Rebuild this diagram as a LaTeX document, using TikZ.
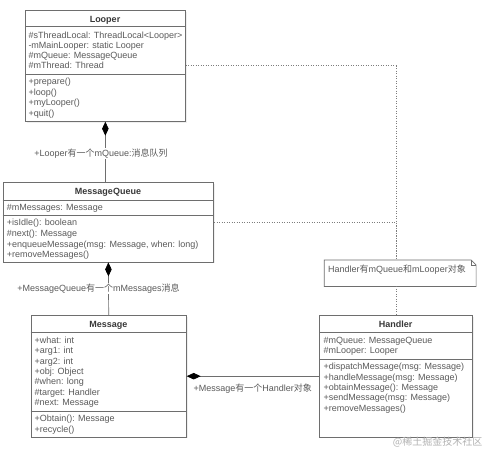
\documentclass[tikz,border=0pt]{standalone}
\usepackage{fontspec}
\setmainfont{Liberation Sans}
\newfontfamily\cjk{Noto Sans CJK SC}
\newcommand{\zh}[1]{{\cjk #1}}
\usepackage{tikz}
\usetikzlibrary{arrows.meta, positioning, calc, shadows}

\definecolor{umlborder}{HTML}{6E6E6E}
\definecolor{umltext}{HTML}{5A5A5A}
\definecolor{umlhead}{HTML}{383838}

% divider inside a class box, offset measured down from its top edge
\newcommand{\umlrule}[2]{\draw[umlsep] ($(#1.north west)+(0,#2)$) -- ($(#1.north east)+(0,#2)$);}

\begin{document}
\begin{tikzpicture}[
  x=1pt, y=-1pt,
  umlclass/.style={rectangle, draw=umlborder, fill=white, anchor=north west, inner sep=0pt, line width=0.7pt, drop shadow={opacity=0.12, shadow xshift=1.2pt, shadow yshift=-1.2pt}},
  umlsep/.style={draw=umlborder, line width=0.7pt},
  umltitle/.style={anchor=base, inner sep=0pt, font=\bfseries\fontsize{9}{10}\selectfont, text=umlhead},
  member/.style={anchor=base west, inner sep=0pt, font=\fontsize{9}{10}\selectfont, text=umltext},
  notebox/.style={rectangle, anchor=north west, inner sep=0pt},
  comp/.style={{Diamond[length=14pt, width=6.5pt, color=black]}-, draw=umlborder, line width=0.7pt},
  dotline/.style={draw=umlborder!90, line width=0.8pt, dash pattern=on 0.9pt off 1.6pt},
  linklabel/.style={fill=white, inner sep=1pt, font=\fontsize{9}{10}\selectfont, text=umltext}
]
\useasboundingbox[fill=white] (0,0) rectangle (499,459);

% Looper
\node[umlclass, minimum width=160pt, minimum height=111pt] (looper) at (25,10) {};
\umlrule{looper}{16.7}
\umlrule{looper}{64}
\node[umltitle] (looper-t) at (105,22.3) {Looper};
\foreach \m [count=\i from 0] in {{\#sThreadLocal: ThreadLocal<Looper>}, {-mMainLooper: static Looper}, {\#mQueue: MessageQueue}, {\#mThread: Thread}}
  \node[member] (looper-a\i) at (28.3,38+10.2*\i) {\m};
\foreach \m [count=\i from 0] in {+prepare(), +loop(), +myLooper(), +quit()}
  \node[member] (looper-m\i) at (28.3,84.7+10.5*\i) {\m};

% MessageQueue
\node[umlclass, minimum width=210.6pt, minimum height=79.4pt] (mq) at (2.7,182.3) {};
\umlrule{mq}{17.7}
\umlrule{mq}{33.4}
\node[umltitle] (mq-t) at (108,194) {MessageQueue};
\node[member] (mq-a0) at (6.7,210.3) {\#mMessages: Message};
\foreach \m [count=\i from 0] in {{+isIdle(): boolean}, {\#next(): Message}, {+enqueueMessage(msg: Message, when: long)}, {+removeMessages()}}
  \node[member] (mq-m\i) at (6.7,225.7+10.67*\i) {\m};

% Message
\node[umlclass, minimum width=155.3pt, minimum height=121.7pt] (message) at (30.7,315) {};
\umlrule{message}{17.7}
\umlrule{message}{96}
\node[umltitle] (message-t) at (108.3,327) {Message};
\foreach \m [count=\i from 0] in {{+what: int}, {+arg1: int}, {+arg2: int}, {+obj: Object}, {\#when: long}, {\#target: Handler}, {\#next: Message}}
  \node[member] (message-a\i) at (34.3,343.3+10.4*\i) {\m};
\foreach \m [count=\i from 0] in {{+Obtain(): Message}, {+recycle()}}
  \node[member] (message-m\i) at (34.3,421.3+10.7*\i) {\m};

% Handler
\node[umlclass, minimum width=153.3pt, minimum height=121.7pt] (handler) at (319,315) {};
\umlrule{handler}{17.3}
\umlrule{handler}{44.3}
\node[umltitle] (handler-t) at (395.7,327) {Handler};
\foreach \m [count=\i from 0] in {{\#mQueue: MessageQueue}, {\#mLooper: Looper}}
  \node[member] (handler-a\i) at (323.3,343.3+10.4*\i) {\m};
\foreach \m [count=\i from 0] in {{+dispatchMessage(msg: Message)}, {+handleMessage(msg: Message)}, {+obtainMessage(): Message}, {+sendMessage(msg: Message)}, {+removeMessages()}}
  \node[member] (handler-m\i) at (323.3,369.7+10.4*\i) {\m};

% Note
\node[notebox, minimum width=151.4pt, minimum height=26pt] (note) at (324.3,260) {};
\draw[umlsep, fill=white] (note.north west) -- ([xshift=-5pt]note.north east) -- ([yshift=-5pt]note.north east) -- (note.south east) -- (note.south west) -- cycle;
\draw[umlsep] ([xshift=-5pt]note.north east) -- ++(0,5) -- ([yshift=-5pt]note.north east);
\node[member] (note-txt) at (328,272) {Handler\zh{有}mQueue\zh{和}mLooper\zh{对象}};

% Composition links
\draw[comp] (looper.south) -- (looper.south |- mq.north);
\draw[comp] (mq.south) -- (message.north);
\draw[comp] (message.east) -- (handler.west);
\node[linklabel] (lbl-looper) at (101,153.3) {+Looper\zh{有一个}mQueue:\zh{消息队列}};
\node[linklabel] (lbl-mq) at (98.5,288.3) {+MessageQueue\zh{有一个}mMessages\zh{消息}};
\node[member] (lbl-message) at (193.3,391) {+Message\zh{有一个}Handler\zh{对象}};

% Note attachments
\draw[dotline] (looper.east) -| (handler.north |- note.north);
\draw[dotline] (mq.east) -| (handler.north |- note.north);
\draw[dotline] (handler.north |- note.south) -- (handler.north);

% Watermark
\node[inner sep=0pt, anchor=base west, font=\cjk\fontsize{10}{12}\selectfont, text=black!30] (mark) at (392.7,445) {@稀土掘金技术社区};

\end{tikzpicture}
\end{document}
